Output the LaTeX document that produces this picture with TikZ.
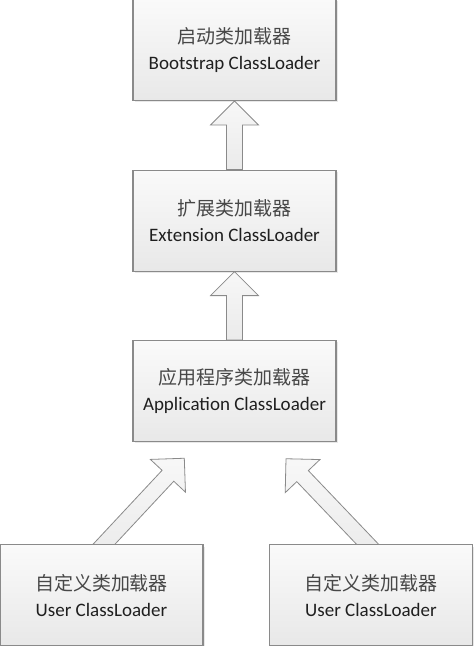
\documentclass[tikz,border=0pt]{standalone}
\usepackage{fontspec}
\setmainfont{Carlito}
\newfontfamily\cjk{Noto Sans CJK SC}
\usepackage{tikz}
\usetikzlibrary{positioning,calc,shadows,backgrounds}

\definecolor{boxline}{HTML}{8A8A8A}

% hollow block arrow, #1 = tail, #2 = tip
\newcommand\hollowarrow[2]{%
  \coordinate (hb) at ($(#2)!24pt!(#1)$);
  \draw[inh] ($(#1)!8pt!90:(#2)$) -- ($(hb)!8pt!90:(#2)$) -- ($(hb)!24pt!90:(#2)$)
    -- (#2) -- ($(hb)!24pt!-90:(#2)$) -- ($(hb)!8pt!-90:(#2)$) -- ($(#1)!8pt!-90:(#2)$) -- cycle;
}

\begin{document}
\begin{tikzpicture}[
  x=1pt, y=1pt, node distance=68.5pt,
  font=\fontsize{19pt}{26pt}\selectfont,
  loader/.style={draw=boxline, line width=1.1pt, align=center, minimum width=203pt, minimum height=101pt,
    inner sep=0pt, top color=black!2, bottom color=black!9, text=black!88,
    drop shadow={shadow xshift=1.8pt, shadow yshift=-1.8pt, opacity=0.18}},
  inh/.style={draw=boxline, line width=0.8pt, line join=miter, top color=black!3, bottom color=black!8}
]
\useasboundingbox (0,0) rectangle (474,646);

\node[loader] (boot) at (234.5,596) {{\cjk\color{black!72}启动类加载器}\\Bootstrap ClassLoader};
\node[loader, below=of boot] (ext) {{\cjk\color{black!72}扩展类加载器}\\Extension ClassLoader};
\node[loader, below=of ext] (app) {{\cjk\color{black!72}应用程序类加载器}\\Application ClassLoader};
\node[loader, below=102pt of app, xshift=-133pt] (userA) {{\cjk\color{black!72}自定义类加载器}\\User ClassLoader};
\node[loader, below=102pt of app, xshift=136.5pt] (userB) {{\cjk\color{black!72}自定义类加载器}\\User ClassLoader};

\coordinate (tipA) at ($(app.south)+(-50.2pt,-16pt)$);
\coordinate (tipB) at ($(app.south)+(51.5pt,-16.5pt)$);
\coordinate (tailA) at ($(userA.north)+(-8.7pt,-12pt)$);
\coordinate (tailB) at ($(userB.north)+(8pt,-12pt)$);

\begin{scope}[on background layer]
\hollowarrow{ext.north}{boot.south}
\hollowarrow{app.north}{ext.south}
\hollowarrow{tailA}{tipA}
\hollowarrow{tailB}{tipB}
\end{scope}
\end{tikzpicture}
\end{document}
